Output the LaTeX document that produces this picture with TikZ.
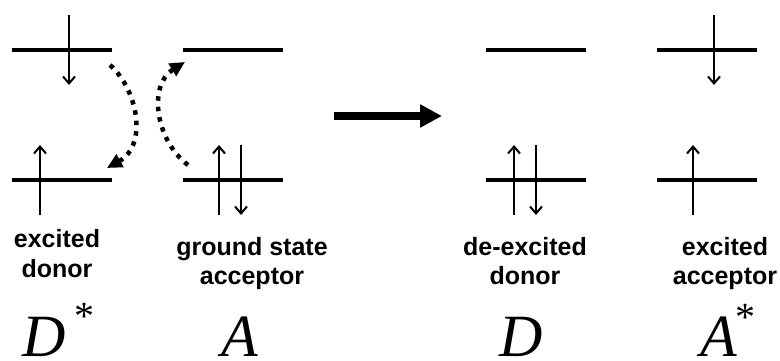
\documentclass[tikz,border=0pt]{standalone}
\usepackage{fontspec}
\setmainfont{Liberation Serif}
\newfontfamily\labfont{Liberation Sans}
\usetikzlibrary{arrows.meta}
\tikzset{
  level/.style={line width=3.5pt},
  spin/.style={line width=2pt,-{Straight Barb[length=7pt,width=12pt,line width=2pt]}},
  transfer/.style={line width=4.5pt,dash pattern=on 4.5pt off 6pt,-{Triangle[length=15pt,width=14pt]}},
  bigarrow/.style={line width=8pt,-{Triangle[length=22pt,width=22pt]}},
  lab/.style={font=\labfont\bfseries\fontsize{25}{30}\selectfont,anchor=base,inner sep=0pt},
  sym/.style={font=\fontsize{60}{60}\selectfont\itshape,anchor=base west,inner sep=0pt},
  star/.style={font=\fontsize{40}{40}\selectfont,inner sep=0pt,anchor=north}
}
\begin{document}
\begin{tikzpicture}[x=1pt,y=-1pt]
\useasboundingbox (0,0) rectangle (780,361);
% energy levels
\coordinate (dUl) at (12,50);  \coordinate (dUr) at (112,50);
\coordinate (dLl) at (12,180); \coordinate (dLr) at (112,180);
\coordinate (aUl) at (183,50);  \coordinate (aUr) at (283,50);
\coordinate (aLl) at (183,180); \coordinate (aLr) at (283,180);
\coordinate (eUl) at (486,50);  \coordinate (eUr) at (586,50);
\coordinate (eLl) at (486,180); \coordinate (eLr) at (586,180);
\coordinate (xUl) at (657,50);  \coordinate (xUr) at (757,50);
\coordinate (xLl) at (657,180); \coordinate (xLr) at (757,180);
\foreach \p in {dU,dL,aU,aL,eU,eL,xU,xL}{\draw[level] (\p l) -- (\p r);}
% spins
\coordinate (s1a) at (69,15);  \coordinate (s1b) at (69,85);
\coordinate (s2a) at (40,215); \coordinate (s2b) at (40,145);
\coordinate (s3a) at (219,215); \coordinate (s3b) at (219,145);
\coordinate (s4a) at (241,145); \coordinate (s4b) at (241,215);
\coordinate (s5a) at (514,215); \coordinate (s5b) at (514,145);
\coordinate (s6a) at (536,145); \coordinate (s6b) at (536,215);
\coordinate (s7a) at (714,15);  \coordinate (s7b) at (714,85);
\coordinate (s8a) at (693,215); \coordinate (s8b) at (693,145);
\foreach \s in {s1,s2,s3,s4,s5,s6,s7,s8}{\draw[spin] (\s a) -- (\s b);}
% transfer arrows
\coordinate (t1a) at (110,65);  \coordinate (t1b) at (107,168);
\coordinate (t2a) at (188,165); \coordinate (t2b) at (185,62);
\draw[transfer] (t1a) .. controls (138,90) and (148,145) .. (t1b);
\draw[transfer] (t2a) .. controls (155,140) and (148,85) .. (t2b);
% big arrow
\coordinate (ba) at (334,116); \coordinate (bb) at (442,116);
\draw[bigarrow] (ba) -- (bb);
% labels
\node[lab] (l1a) at (57,247) {excited};
\node[lab] (l1b) at (57,277) {donor};
\node[lab] (l2a) at (252,255) {ground state};
\node[lab] (l2b) at (252,284) {acceptor};
\node[lab] (l3a) at (525,255) {de-excited};
\node[lab] (l3b) at (525,284) {donor};
\node[lab] (l4a) at (725,255) {excited};
\node[lab] (l4b) at (725,284) {acceptor};
% symbols
\node[sym] (m1) at (22,356) {D};
\node[star] (m1s) at (84,303) {*};
\node[sym] (m2) at (221,356) {A};
\node[sym] (m3) at (499,356) {D};
\node[sym] (m4) at (700,356) {A};
\node[star] (m4s) at (745,304) {*};
\end{tikzpicture}
\end{document}
